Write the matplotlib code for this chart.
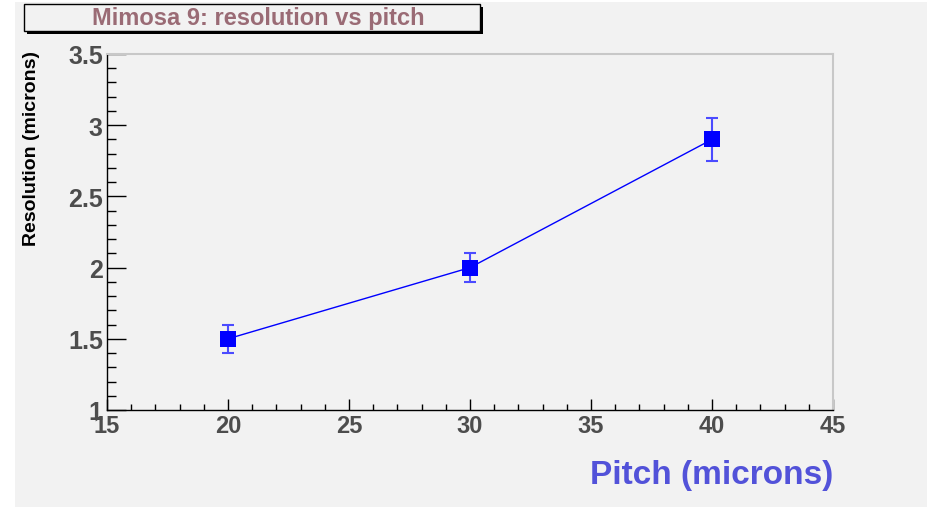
import matplotlib
matplotlib.use("Agg")
import matplotlib.pyplot as plt
from matplotlib.patches import Rectangle
from matplotlib.ticker import MultipleLocator

pitch = [20, 30, 40]
resolution = [1.5, 2.0, 2.9]
res_err = [0.1, 0.1, 0.15]
title = "Mimosa 9: resolution vs pitch"
xlabel = "Pitch (microns)"
ylabel = "Resolution (microns)"

W, H = 928, 510
fig = plt.figure(figsize=(W / 100, H / 100), dpi=100, facecolor="white")
plt.rcParams["font.family"] = ["Liberation Sans", "DejaVu Sans"]

# gray canvas
fig.patches.append(Rectangle((15 / W, 2 / H), 913 / W, 505 / H, transform=fig.transFigure,
                             facecolor="#f2f2f2", edgecolor="none", zorder=-10))

ax = fig.add_axes([107 / W, 1 - 411 / H, (833 - 107) / W, (411 - 55) / H])
ax.set_zorder(5)
ax.set_facecolor("#f2f2f2")

ax.errorbar(pitch, resolution, yerr=res_err, fmt="none", ecolor="#4b4bff", elinewidth=1.5,
            capsize=4, capthick=1.5, zorder=2)
ax.plot(pitch, resolution, color="blue", lw=1, zorder=3)
ax.plot(pitch, resolution, "s", color="blue", markersize=11.5, markeredgewidth=0, zorder=4)

ax.set_xlim(15, 45)
ax.set_ylim(1, 3.5)
ax.xaxis.set_major_locator(MultipleLocator(5))
ax.xaxis.set_minor_locator(MultipleLocator(1))
ax.yaxis.set_major_locator(MultipleLocator(0.5))
ax.yaxis.set_minor_locator(MultipleLocator(0.1))
ax.xaxis.set_major_formatter(plt.FuncFormatter(lambda v, p: f"{v:g}"))
ax.yaxis.set_major_formatter(plt.FuncFormatter(lambda v, p: f"{v:g}"))

ax.tick_params(axis="both", which="both", direction="in", color="black", width=1,
               labelcolor="#4d4d4d")
ax.tick_params(axis="x", which="major", length=8, pad=3, labelsize=17)
ax.tick_params(axis="x", which="minor", length=4.3)
ax.tick_params(axis="y", which="major", length=13.5, pad=3, labelsize=18)
ax.tick_params(axis="y", which="minor", length=6.5)
for lab in ax.get_xticklabels() + ax.get_yticklabels():
    lab.set_fontweight("bold")

for s in ("left", "bottom"):
    ax.spines[s].set_color("black")
    ax.spines[s].set_linewidth(1)
for s in ("top", "right"):
    ax.spines[s].set_color("#c8c8c8")
    ax.spines[s].set_linewidth(1.5)

# title box with shadow
bx0, by0, bx1, by1 = 24, 5, 480, 32
fig.patches.append(Rectangle(((bx0 + 3) / W, 1 - (by1 + 3) / H), (bx1 - bx0) / W, (by1 - by0) / H,
                             transform=fig.transFigure, facecolor="black", edgecolor="none", zorder=1))
fig.patches.append(Rectangle((bx0 / W, 1 - by1 / H), (bx1 - bx0) / W, (by1 - by0) / H,
                             transform=fig.transFigure, facecolor="#f2f2f2", edgecolor="black",
                             linewidth=1, zorder=2))
fig.text(258 / W, 1 - 18.5 / H, title, ha="center", va="center", fontsize=17,
         fontweight="bold", color="#9a6b75", zorder=3)

fig.text(32 / W, 1 - 149 / H, ylabel, rotation=90, ha="center", va="center", fontsize=14,
         fontweight="bold", color="black")
fig.text(833 / W, 1 - 484 / H, xlabel, ha="right", va="baseline", fontsize=24,
         fontweight="bold", color="#5252d9")

fig.savefig("out.png", dpi=100, facecolor="white")
